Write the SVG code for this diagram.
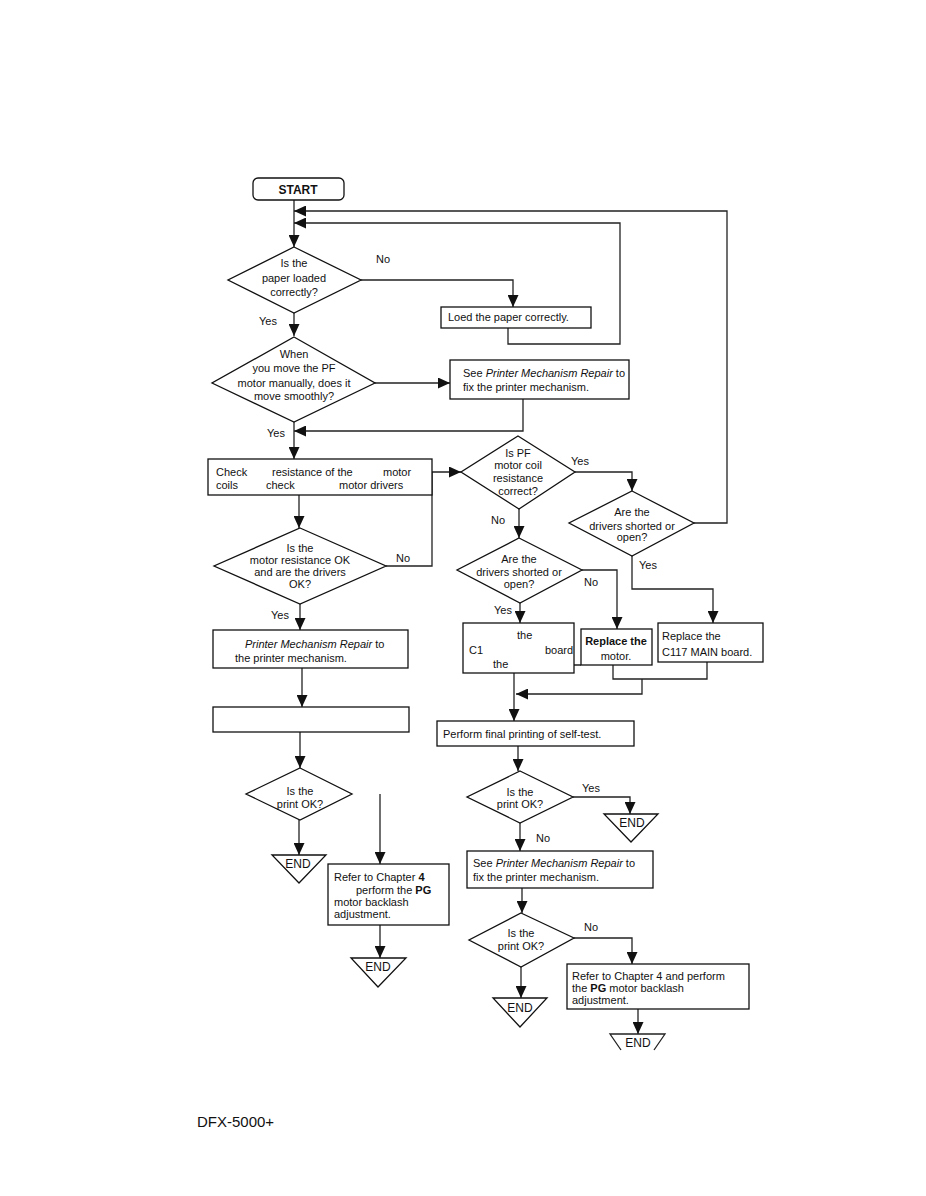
<svg xmlns="http://www.w3.org/2000/svg" width="926" height="1196" viewBox="0 0 926 1196">
<defs>
<marker id="ah" markerUnits="userSpaceOnUse" markerWidth="12" markerHeight="11" refX="12" refY="5.5" orient="auto">
<path d="M0,0 L12,5.5 L0,11 z" fill="#111"/>
</marker>
<style>
.s{fill:#fff;stroke:#111;stroke-width:1.3}
.c{fill:none;stroke:#222;stroke-width:1.3}
.t{font-family:"Liberation Sans",Arial,sans-serif;font-size:11px;fill:#111}
.m{text-anchor:middle}
.i{font-style:italic}
.b{font-weight:bold}
.e{font-size:12px}
</style>
</defs>
<rect width="926" height="1196" fill="#fff"/>

<g id="connectors">
<path class="c" d="M294,200 V247" marker-end="url(#ah)"/>
<path class="c" d="M361,280 H513 V307" marker-end="url(#ah)"/>
<path class="c" d="M508,328 V344 H620 V223 H294" marker-end="url(#ah)"/>
<path class="c" d="M694,523 H727 V211 H294" marker-end="url(#ah)"/>
<path class="c" d="M294,313 V336" marker-end="url(#ah)"/>
<path class="c" d="M375,383 H450" marker-end="url(#ah)"/>
<path class="c" d="M523,399 V431 H294" marker-end="url(#ah)"/>
<path class="c" d="M294,422 V459" marker-end="url(#ah)"/>
<path class="c" d="M299,495 V528" marker-end="url(#ah)"/>
<path class="c" d="M386,566 H432 V472 H461" marker-end="url(#ah)"/>
<path class="c" d="M300,604 V630" marker-end="url(#ah)"/>
<path class="c" d="M302,668 V707" marker-end="url(#ah)"/>
<path class="c" d="M300,732 V768" marker-end="url(#ah)"/>
<path class="c" d="M299,820 V855" marker-end="url(#ah)"/>
<path class="c" d="M380,794 V864" marker-end="url(#ah)"/>
<path class="c" d="M380,925 V958" marker-end="url(#ah)"/>
<path class="c" d="M575,472 H632 V491" marker-end="url(#ah)"/>
<path class="c" d="M519,509 V538" marker-end="url(#ah)"/>
<path class="c" d="M632,556 V589 H713 V623" marker-end="url(#ah)"/>
<path class="c" d="M582,570 H617 V629" marker-end="url(#ah)"/>
<path class="c" d="M520,603 V623" marker-end="url(#ah)"/>
<path class="c" d="M514,673 V721" marker-end="url(#ah)"/>
<path class="c" d="M574,665 H581 M613,665 V679 H707 V662"/>
<path class="c" d="M642,679 V694 H516" marker-end="url(#ah)"/>
<path class="c" d="M518,746 V771" marker-end="url(#ah)"/>
<path class="c" d="M573,797 H630 V814" marker-end="url(#ah)"/>
<path class="c" d="M520,823 V851" marker-end="url(#ah)"/>
<path class="c" d="M522,888 V913" marker-end="url(#ah)"/>
<path class="c" d="M574,938 H632 V964" marker-end="url(#ah)"/>
<path class="c" d="M521,967 V998" marker-end="url(#ah)"/>
<path class="c" d="M638,1009 V1034" marker-end="url(#ah)"/>
<text class="t" x="376" y="263">No</text>
<text class="t" x="259" y="325">Yes</text>
<text class="t" x="267" y="437">Yes</text>
<text class="t" x="396" y="562">No</text>
<text class="t" x="271" y="619">Yes</text>
<text class="t" x="571" y="465">Yes</text>
<text class="t" x="491" y="524">No</text>
<text class="t" x="639" y="569">Yes</text>
<text class="t" x="584" y="586">No</text>
<text class="t" x="494" y="614">Yes</text>
<text class="t" x="582" y="792">Yes</text>
<text class="t" x="536" y="842">No</text>
<text class="t" x="584" y="931">No</text>
</g>

<g id="start">
<rect class="s" x="253" y="178" width="91" height="22" rx="5"/>
<text class="t m" x="298" y="194" style="font-size:12px;font-weight:600">START</text>
</g>

<g id="d-paper">
<polygon class="s" points="294,247 361,280 294,313 228,280"/>
<text class="t m" x="294" y="267">Is the</text>
<text class="t m" x="294" y="282">paper loaded</text>
<text class="t m" x="294" y="296">correctly?</text>
</g>

<g id="b-load">
<rect class="s" x="441" y="307" width="150" height="21"/>
<text class="t" x="448" y="321">Loed the paper correctly.</text>
</g>

<g id="d-move">
<polygon class="s" points="294,337 375,383 294,422 212,383"/>
<text class="t m" x="294" y="358">When</text>
<text class="t m" x="294" y="372">you move the PF</text>
<text class="t m" x="294" y="387">motor manually, does it</text>
<text class="t m" x="294" y="400">move smoothly?</text>
</g>

<g id="b-see1">
<rect class="s" x="450" y="360" width="179" height="39"/>
<text class="t" x="463" y="377">See <tspan class="i">Printer Mechanism Repair</tspan> to</text>
<text class="t" x="463" y="391">fix the printer mechanism.</text>
</g>

<g id="b-check">
<rect class="s" x="208" y="459" width="224" height="36"/>
<text class="t" x="216" y="476">Check</text>
<text class="t" x="272" y="476">resistance of the</text>
<text class="t" x="383" y="476">motor</text>
<text class="t" x="216" y="489">coils</text>
<text class="t" x="266" y="489">check</text>
<text class="t" x="339" y="489">motor drivers</text>
</g>

<g id="d-motorok">
<polygon class="s" points="300,528 386,566 300,604 214,566"/>
<text class="t m" x="300" y="552">Is the</text>
<text class="t m" x="300" y="564">motor resistance OK</text>
<text class="t m" x="300" y="576">and are the drivers</text>
<text class="t m" x="300" y="588">OK?</text>
</g>

<g id="b-pmr">
<rect class="s" x="213" y="630" width="195" height="38"/>
<text class="t" x="245" y="648"><tspan class="i">Printer Mechanism Repair</tspan> to</text>
<text class="t" x="235" y="662">the printer mechanism.</text>
</g>

<g id="b-empty">
<rect class="s" x="213" y="707" width="196" height="25"/>
</g>

<g id="d-printL">
<polygon class="s" points="300,768 352,794 300,820 246,794"/>
<text class="t m" x="300" y="795">Is the</text>
<text class="t m" x="300" y="808">print OK?</text>
</g>

<g id="end1">
<polygon class="s" points="272,855 326,855 299,883"/>
<text class="t m e" x="298" y="868">END</text>
</g>

<g id="b-refer1">
<rect class="s" x="328" y="864" width="121" height="61"/>
<text class="t" x="334" y="881">Refer to Chapter <tspan class="b">4</tspan></text>
<text class="t" x="356" y="894">perform the <tspan class="b">PG</tspan></text>
<text class="t" x="334" y="906">motor backlash</text>
<text class="t" x="334" y="918">adjustment.</text>
</g>

<g id="end2">
<polygon class="s" points="351,958 406,958 378,987"/>
<text class="t m e" x="378" y="971">END</text>
</g>

<g id="d-coil">
<polygon class="s" points="518,436 575,472 519,509 461,472"/>
<text class="t m" x="518" y="457">Is PF</text>
<text class="t m" x="518" y="469">motor coil</text>
<text class="t m" x="518" y="482">resistance</text>
<text class="t m" x="518" y="495">correct?</text>
</g>

<g id="d-drv1">
<polygon class="s" points="632,491 694,523 632,556 569,523"/>
<text class="t m" x="632" y="516">Are the</text>
<text class="t m" x="632" y="530">drivers shorted or</text>
<text class="t m" x="632" y="541">open?</text>
</g>

<g id="d-drv2">
<polygon class="s" points="519,538 582,570 520,603 457,570"/>
<text class="t m" x="519" y="563">Are the</text>
<text class="t m" x="519" y="576">drivers shorted or</text>
<text class="t m" x="519" y="588">open?</text>
</g>

<g id="b-c1">
<rect class="s" x="463" y="623" width="111" height="50"/>
<text class="t" x="517" y="639">the</text>
<text class="t" x="469" y="654">C1</text>
<text class="t" x="545" y="654">board</text>
<text class="t" x="493" y="668">the</text>
</g>

<g id="b-motor">
<rect class="s" x="581" y="629" width="71" height="36"/>
<text class="t m b" x="616" y="645">Replace the</text>
<text class="t m" x="616" y="660">motor.</text>
</g>

<g id="b-main">
<rect class="s" x="658" y="623" width="105" height="39"/>
<text class="t" x="662" y="640">Replace the</text>
<text class="t" x="662" y="656">C117 MAIN board.</text>
</g>

<g id="b-perform">
<rect class="s" x="437" y="721" width="197" height="25"/>
<text class="t" x="443" y="738">Perform final printing of self-test.</text>
</g>

<g id="d-printR1">
<polygon class="s" points="520,771 573,797 520,823 467,797"/>
<text class="t m" x="520" y="796">Is the</text>
<text class="t m" x="520" y="808">print OK?</text>
</g>

<g id="end3">
<polygon class="s" points="604,814 658,814 631,842"/>
<text class="t m e" x="632" y="827">END</text>
</g>

<g id="b-see2">
<rect class="s" x="467" y="851" width="186" height="37"/>
<text class="t" x="473" y="867">See <tspan class="i">Printer Mechanism Repair</tspan> to</text>
<text class="t" x="473" y="881">fix the printer mechanism.</text>
</g>

<g id="d-printR2">
<polygon class="s" points="521,913 574,938 521,967 469,940"/>
<text class="t m" x="521" y="937">Is the</text>
<text class="t m" x="521" y="950">print OK?</text>
</g>

<g id="end4">
<polygon class="s" points="493,998 547,998 520,1027"/>
<text class="t m e" x="520" y="1012">END</text>
</g>

<g id="b-refer2">
<rect class="s" x="567" y="964" width="182" height="45"/>
<text class="t" x="572" y="980">Refer to Chapter 4 and perform</text>
<text class="t" x="572" y="992">the <tspan class="b">PG</tspan> motor backlash</text>
<text class="t" x="572" y="1004">adjustment.</text>
</g>

<g id="end5">
<path class="c" d="M621,1050 L610,1034 H665 L654,1050"/>
<text class="t m e" x="638" y="1047">END</text>
</g>

<text x="197" y="1127" style="font-family:'Liberation Sans',Arial,sans-serif;font-size:15px;fill:#111">DFX-5000+</text>
</svg>
